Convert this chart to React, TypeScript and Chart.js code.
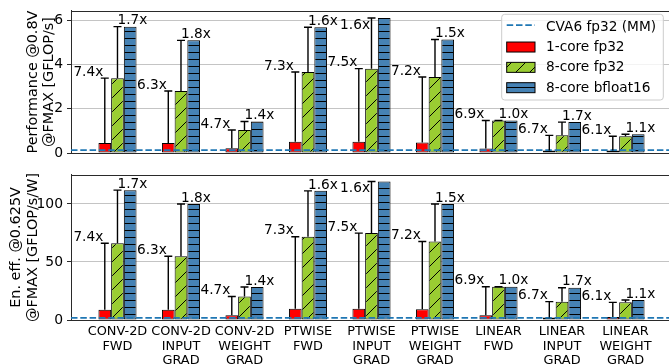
import React, { useEffect, useRef } from 'react';
import { Chart, registerables } from 'chart.js';

Chart.register(...registerables);
Chart.defaults.font.family = 'DejaVu Sans';

// ---------------- data ----------------
const categories: string[][] = [
  ['CONV-2D', 'FWD'],
  ['CONV-2D', 'INPUT', 'GRAD'],
  ['CONV-2D', 'WEIGHT', 'GRAD'],
  ['PTWISE', 'FWD'],
  ['PTWISE', 'INPUT', 'GRAD'],
  ['PTWISE', 'WEIGHT', 'GRAD'],
  ['LINEAR', 'FWD'],
  ['LINEAR', 'INPUT', 'GRAD'],
  ['LINEAR', 'WEIGHT', 'GRAD'],
];
const seriesNames = ['CVA6 fp32 (MM)', '1-core fp32', '8-core fp32', '8-core bfloat16'];

// Performance @0.8V @FMAX [GFLOP/s]
const perf1core = [0.45, 0.45, 0.22, 0.51, 0.51, 0.48, 0.21, 0.12, 0.12];
const perf8core = [3.39, 2.81, 1.04, 3.67, 3.82, 3.44, 1.47, 0.8, 0.76];
const perf8bf16 = [5.72, 5.1, 1.43, 5.69, 6.11, 5.14, 1.47, 1.4, 0.85];
const perfCva6 = 0.13;

// Energy efficiency @0.625V @FMAX [GFLOP/s/W]
const eff1core = [8.8, 8.8, 4.2, 9.7, 9.8, 9.2, 4.1, 2.2, 2.5];
const eff8core = [66.2, 55.0, 20.3, 71.8, 74.9, 67.6, 28.7, 15.8, 15.2];
const eff8bf16 = [111.9, 100.0, 28.4, 111.3, 119.4, 100.0, 28.7, 27.8, 17.2];
const effCva6 = 1.8;

// speed-up annotations
const speedup8core = ['7.4x', '6.3x', '4.7x', '7.3x', '7.5x', '7.2x', '6.9x', '6.7x', '6.1x'];
const speedupBf16 = ['1.7x', '1.8x', '1.4x', '1.6x', '1.6x', '1.5x', '1.0x', '1.7x', '1.1x'];
const bf16LabelLeft = [false, false, false, false, true, false, false, false, false];

const perfTicks = [0, 2, 4, 6];
const effTicks = [0, 50, 100];
const perfMax = 6.43;
const effMax = 125;
const perfYLabel = ['Performance @0.8V', '@FMAX [GFLOP/s]'];
const effYLabel = ['En. eff. @0.625V', '@FMAX [GFLOP/s/W]'];

// ---------------- style ----------------
const X_MIN = -0.732;
const X_MAX = 8.685;
const RED = '#ff0000';
const GREEN = '#9acd32';
const BLUE = '#4682b4';
const LINE_BLUE = '#1f77b4';
const SPINE = '#2a2a2a';
const FONT = '13.7px "DejaVu Sans"';
const YLABEL_FONT = '14.4px "DejaVu Sans"';

function greenHatch(): CanvasPattern | string {
  const c = document.createElement('canvas');
  c.width = 14;
  c.height = 14;
  const g = c.getContext('2d');
  if (!g) return GREEN;
  g.fillStyle = GREEN;
  g.fillRect(0, 0, 14, 14);
  g.strokeStyle = '#000';
  g.lineWidth = 1;
  g.beginPath();
  g.moveTo(0, 14); g.lineTo(14, 0);
  g.moveTo(-7, 7); g.lineTo(7, -7);
  g.moveTo(7, 21); g.lineTo(21, 7);
  g.stroke();
  return g.createPattern(c, 'repeat') || GREEN;
}

function blueHatch(): CanvasPattern | string {
  const c = document.createElement('canvas');
  c.width = 7;
  c.height = 7;
  const g = c.getContext('2d');
  if (!g) return BLUE;
  g.fillStyle = BLUE;
  g.fillRect(0, 0, 7, 7);
  g.fillStyle = '#000';
  g.fillRect(0, 3, 7, 1);
  return g.createPattern(c, 'repeat') || BLUE;
}

interface PanelCfg {
  v1: number[];
  v8: number[];
  vbf: number[];
  cva: number;
  yMax: number;
  yTicks: number[];
  yLabel: string[];
  yLabelX: number[];
  showX: boolean;
  showLegend: boolean;
}

function makeChart(canvas: HTMLCanvasElement, cfg: PanelCfg): Chart {
  const gPat = greenHatch();
  const bPat = blueHatch();

  const overlay = {
    id: 'overlay',
    afterDatasetsDraw(chart: any) {
      const ctx: CanvasRenderingContext2D = chart.ctx;
      const ys = chart.scales.y;
      const ca = chart.chartArea;
      const m1 = chart.getDatasetMeta(1);
      const m2 = chart.getDatasetMeta(2);
      ctx.save();
      ctx.strokeStyle = '#000';
      ctx.lineWidth = 1.4;
      ctx.fillStyle = '#000';
      ctx.font = FONT;
      for (let i = 0; i < categories.length; i++) {
        const x1 = m1.data[i].x;
        const x2 = m2.data[i].x;
        const yr = ys.getPixelForValue(cfg.v1[i]);
        const yg = ys.getPixelForValue(cfg.v8[i]);
        const yb = ys.getPixelForValue(cfg.vbf[i]);
        ctx.beginPath();
        ctx.moveTo(x1, yr); ctx.lineTo(x1, yg);
        ctx.moveTo(x1 - 4, yg); ctx.lineTo(x1 + 4, yg);
        ctx.moveTo(x2, yg); ctx.lineTo(x2, yb);
        ctx.moveTo(x2 - 4, yb); ctx.lineTo(x2 + 4, yb);
        ctx.stroke();
        ctx.textBaseline = 'alphabetic';
        ctx.textAlign = 'right';
        ctx.fillText(speedup8core[i], x1 - 1.5, yg - 2.3);
        if (bf16LabelLeft[i]) {
          ctx.textAlign = 'right';
          ctx.fillText(speedupBf16[i], x2 - 1.5, yb + 11);
        } else {
          ctx.textAlign = 'left';
          ctx.fillText(speedupBf16[i], x2, yb - 2.3);
        }
      }
      // top spine
      ctx.strokeStyle = SPINE;
      ctx.lineWidth = 1;
      ctx.beginPath();
      ctx.moveTo(ca.left, Math.round(ca.top) + 0.5);
      ctx.lineTo(ca.right, Math.round(ca.top) + 0.5);
      ctx.stroke();
      ctx.restore();
    },
    afterDraw(chart: any) {
      const ctx: CanvasRenderingContext2D = chart.ctx;
      const ca = chart.chartArea;
      ctx.save();
      ctx.fillStyle = '#000';
      ctx.font = YLABEL_FONT;
      ctx.textAlign = 'center';
      ctx.textBaseline = 'alphabetic';
      const cy = (ca.top + ca.bottom) / 2;
      cfg.yLabel.forEach((line, k) => {
        ctx.save();
        ctx.translate(cfg.yLabelX[k], cy);
        ctx.rotate(-Math.PI / 2);
        ctx.fillText(line, 0, 0);
        ctx.restore();
      });
      ctx.font = FONT;
      if (cfg.showLegend) {
        const bx = 501.7, by = 14.3, bw = 161.6, bh = 85.7;
        ctx.beginPath();
        ctx.roundRect(bx, by, bw, bh, 3);
        ctx.fillStyle = 'rgba(255,255,255,0.8)';
        ctx.fill();
        ctx.strokeStyle = '#cccccc';
        ctx.lineWidth = 1;
        ctx.stroke();
        const hx = 506.7, hw = 28.3, tx = 546;
        const fills: (string | CanvasPattern)[] = [RED, gPat, bPat];
        for (let k = 0; k < seriesNames.length; k++) {
          const base = 30.7 + 20.33 * k;
          if (k === 0) {
            ctx.save();
            ctx.strokeStyle = LINE_BLUE;
            ctx.lineWidth = 1.75;
            ctx.setLineDash([6.5, 2.8]);
            ctx.beginPath();
            ctx.moveTo(hx, 25);
            ctx.lineTo(hx + hw, 25);
            ctx.stroke();
            ctx.restore();
          } else {
            const top = base - 9;
            ctx.fillStyle = fills[k - 1] as any;
            ctx.fillRect(hx, top, hw, 10);
            ctx.strokeStyle = '#000';
            ctx.lineWidth = 1;
            ctx.strokeRect(hx, top, hw, 10);
          }
          ctx.fillStyle = '#000';
          ctx.textAlign = 'left';
          ctx.fillText(seriesNames[k], tx, base);
        }
      }
      ctx.restore();
    },
  };

  const barCommon = {
    borderColor: '#000',
    borderWidth: 1,
    borderSkipped: false,
    categoryPercentage: 0.6,
    barPercentage: 1.0,
    order: 1,
  };

  return new Chart(canvas, {
    type: 'bar',
    data: {
      datasets: [
        {
          type: 'line',
          label: seriesNames[0],
          data: [{ x: X_MIN, y: cfg.cva }, { x: X_MAX, y: cfg.cva }],
          borderColor: LINE_BLUE,
          borderWidth: 1.75,
          borderDash: [6.5, 2.8],
          pointRadius: 0,
          fill: false,
          order: 0,
        } as any,
        { ...barCommon, label: seriesNames[1], data: cfg.v1.map((y, i) => ({ x: i, y })), backgroundColor: RED } as any,
        { ...barCommon, label: seriesNames[2], data: cfg.v8.map((y, i) => ({ x: i, y })), backgroundColor: gPat } as any,
        { ...barCommon, label: seriesNames[3], data: cfg.vbf.map((y, i) => ({ x: i, y })), backgroundColor: bPat } as any,
      ],
    },
    options: {
      responsive: false,
      animation: false,
      layout: { padding: { left: 0, right: 0, top: 7, bottom: cfg.showX ? 0 : 8 } },
      plugins: { legend: { display: false }, tooltip: { enabled: false } },
      scales: {
        x: {
          type: 'linear',
          offset: false,
          min: X_MIN,
          max: X_MAX,
          grid: { display: false, drawTicks: false, offset: false },
          border: { display: true, color: SPINE, width: 1 },
          afterBuildTicks: (s: any) => {
            s.ticks = categories.map((_, i) => ({ value: i }));
          },
          afterFit: (s: any) => {
            s.height = cfg.showX ? 44 : 0;
          },
          ticks: {
            display: cfg.showX,
            autoSkip: false,
            maxRotation: 0,
            minRotation: 0,
            padding: 5,
            color: '#000',
            font: { size: 12.9, lineHeight: 1.1 },
            callback: (v: any) => categories[v as number] as any,
          },
        },
        y: {
          min: 0,
          max: cfg.yMax,
          afterBuildTicks: (s: any) => {
            s.ticks = cfg.yTicks.map((v) => ({ value: v }));
          },
          afterFit: (s: any) => {
            s.width = 71;
          },
          grid: { color: '#c4c4c4', lineWidth: 1, tickColor: SPINE, tickLength: 4 },
          border: { display: true, color: SPINE, width: 1 },
          ticks: {
            padding: 4,
            color: '#000',
            font: { size: 13.9, lineHeight: 1.0 },
            callback: (v: any) => String(v),
          },
        },
      },
    } as any,
    plugins: [overlay],
  });
}

export default function App() {
  const topRef = useRef<HTMLCanvasElement>(null);
  const botRef = useRef<HTMLCanvasElement>(null);

  useEffect(() => {
    if (!topRef.current || !botRef.current) return;
    const c1 = makeChart(topRef.current, {
      v1: perf1core,
      v8: perf8core,
      vbf: perf8bf16,
      cva: perfCva6,
      yMax: perfMax,
      yTicks: perfTicks,
      yLabel: perfYLabel,
      yLabelX: [36.5, 53.2],
      showX: false,
      showLegend: true,
    });
    const c2 = makeChart(botRef.current, {
      v1: eff1core,
      v8: eff8core,
      vbf: eff8bf16,
      cva: effCva6,
      yMax: effMax,
      yTicks: effTicks,
      yLabel: effYLabel,
      yLabelX: [20, 36.7],
      showX: true,
      showLegend: false,
    });
    return () => {
      c1.destroy();
      c2.destroy();
    };
  }, []);

  return (
    <div style={{ position: 'absolute', left: 0, top: 0, width: 669, height: 364, background: '#fff' }}>
      <canvas ref={topRef} width={669} height={164} style={{ position: 'absolute', left: 0, top: 0, width: 669, height: 164 }} />
      <canvas ref={botRef} width={669} height={200} style={{ position: 'absolute', left: 0, top: 164, width: 669, height: 200 }} />
    </div>
  );
}
